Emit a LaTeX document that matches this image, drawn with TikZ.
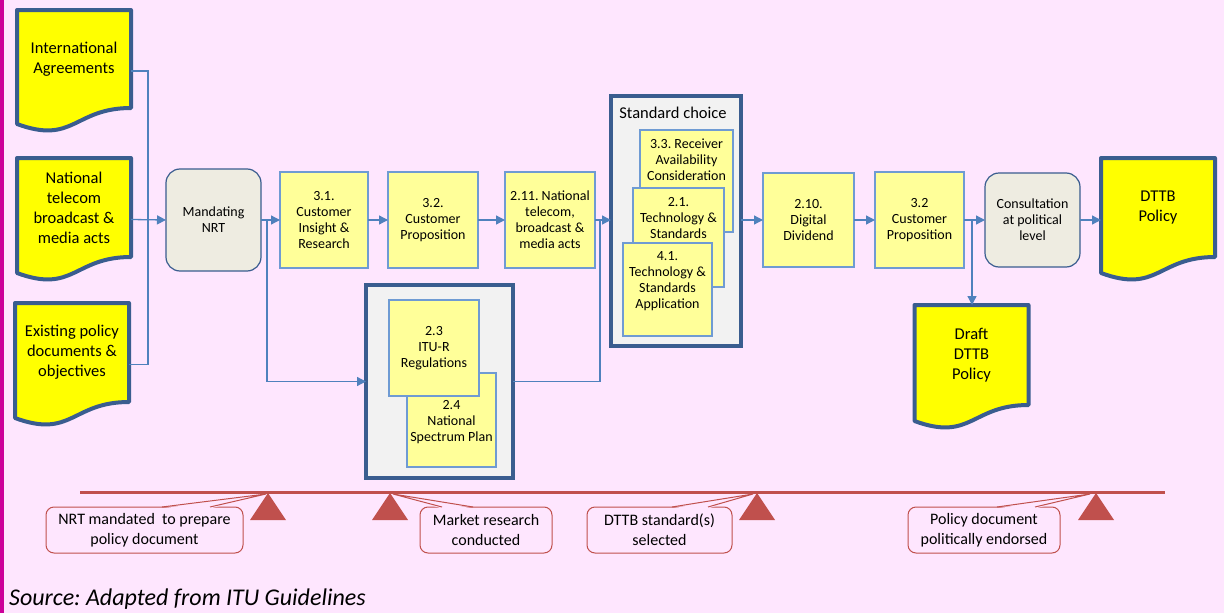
\documentclass[tikz,border=0pt]{standalone}
\usepackage{fontspec}
\setmainfont{Carlito}
\usepackage{xcolor}
\usepackage{tikz}
\usetikzlibrary{positioning,calc,arrows.meta}
\frenchspacing

\definecolor{bgpink}{HTML}{FEE6FE}
\definecolor{sidebar}{HTML}{CC0099}
\definecolor{docyellow}{HTML}{FFFF00}
\definecolor{darkblue}{HTML}{3A5D8F}
\definecolor{procyellow}{HTML}{FFFF99}
\definecolor{procblue}{HTML}{6F9BD3}
\definecolor{nrtgray}{HTML}{EEECE1}
\definecolor{boxgray}{HTML}{F2F2F2}
\definecolor{flowblue}{HTML}{4F81BD}
\definecolor{tlred}{HTML}{C0504D}

\tikzset{
  doc/.style={fill=docyellow, minimum width=114pt, outer sep=0pt, inner sep=2pt,
    align=center, font=\fontsize{16.5}{20}\selectfont},
  docline/.style={draw=darkblue, line width=4pt, line join=round},
  proc/.style={draw=procblue, fill=procyellow, line width=1.2pt, inner sep=2pt,
    outer sep=0pt, align=center, font=\fontsize{14}{16}\selectfont},
  ptext/.style={inner sep=0pt, align=center, font=\fontsize{14}{16}\selectfont},
  roundbox/.style={draw=darkblue, fill=nrtgray, line width=1.2pt, rounded corners=14pt,
    minimum width=95pt, inner sep=2pt, outer sep=0pt, align=center,
    font=\fontsize{14}{16}\selectfont},
  group/.style={draw=darkblue, fill=boxgray, line width=4pt, outer sep=0pt},
  flow/.style={draw=flowblue, line width=1.3pt, -{Triangle[length=9pt,width=9pt]}},
  link/.style={draw=flowblue, line width=1.3pt},
  tline/.style={draw=tlred, line width=3pt},
  callout/.style={draw=tlred, fill=bgpink, line width=1pt, rounded corners=8pt,
    minimum height=46pt, inner sep=2pt, outer sep=0pt, align=center,
    font=\fontsize{16}{20}\selectfont},
  callline/.style={draw=tlred, line width=1pt, line join=miter}
}

% wavy bottom of a document node
\newcommand{\docwave}[1]{%
  \fill[docyellow] (#1.south east) .. controls (#1.south) and ($(#1.south)+(0,37)$) .. ($(#1.south west)+(0,16)$) -- (#1.south west) -- cycle;
  \draw[docline] ($(#1.south west)+(0,16)$) -- (#1.north west) -- (#1.north east) -- (#1.south east)
    .. controls (#1.south) and ($(#1.south)+(0,37)$) .. ($(#1.south west)+(0,16)$) -- cycle;}

% pointer of a callout: node, left offset, right offset, tip
\newcommand{\pointer}[4]{%
  \fill[bgpink] ([xshift=#2pt,yshift=-1.5pt]#1.north west) -- (#4) -- ([xshift=#3pt,yshift=-1.5pt]#1.north west) -- cycle;
  \draw[callline] ([xshift=#2pt]#1.north west) -- (#4) -- ([xshift=#3pt]#1.north west);}

\begin{document}
\begin{tikzpicture}[x=1pt, y=-1pt]
        \useasboundingbox (0,0) rectangle (1224,613);
        \fill[bgpink] (0,0) rectangle (1224,613);
        \fill[sidebar] (0,0) rectangle (4,613);

        % inputs
        \node (intl) [doc, minimum height=98pt] at (74,59) {International\\Agreements};
        \node (natl) [doc, minimum height=99pt] at (74,207.5) {National\\telecom\\broadcast \&\\media acts};
        \node (exist) [doc, minimum height=99pt] at (72,352.5) {Existing policy\\documents \&\\objectives};
        \docwave{intl}
        \docwave{natl}
        \docwave{exist}

        \node (nrt) [roundbox, minimum height=102pt] at (213.5,220) {Mandating\\NRT};

        % top row
        \node (cir) [proc, minimum width=88pt, minimum height=96pt] at (324,220) {3.1.\\Customer\\Insight \&\\Research};
        \node (cp1) [proc, minimum width=90pt, minimum height=96pt] at (433,220) {3.2.\\Customer\\Proposition};
        \node (nat2) [proc, minimum width=90pt, minimum height=96pt] at (550,220) {2.11. National\\telecom,\\broadcast \&\\media acts};

        % regulations group
        \node (reg) [group, minimum width=147pt, minimum height=193pt] at (439.5,381.5) {};
        \node (nsp) [proc, minimum width=89pt, minimum height=94pt] at (451.5,420) {\\[-2pt]2.4\\National\\Spectrum Plan};
        \node (itu) [proc, minimum width=90pt, minimum height=96pt] at (434,348) {2.3\\ITU-R\\Regulations};

        % standard choice group
        \node (std) [group, minimum width=130pt, minimum height=250pt] at (676,221) {};
        \node (stdtitle) [inner sep=0pt, font=\fontsize{16.5}{20}\selectfont] at (673,113) {Standard choice};
        \node (rav) [proc, minimum width=93pt, minimum height=102pt] at (686.5,181) {};
        \node (ravt) [ptext] at (686.5,160) {3.3. Receiver\\Availability\\Consideration};
        \node (ts) [proc, minimum width=91pt, minimum height=99pt] at (678.5,237.5) {};
        \node (tst) [ptext] at (678.5,218) {2.1.\\Technology \&\\Standards};
        \node (tsa) [proc, minimum width=89pt, minimum height=93pt] at (667.5,289.5) {};
        \node (tsat) [ptext] at (667.5,281) {4.1.\\Technology \&\\Standards\\Application};

        \node (dd) [proc, minimum width=91pt, minimum height=94pt] at (808.5,220) {2.10.\\Digital\\Dividend};
        \node (cp2) [proc, minimum width=89pt, minimum height=96pt] at (919.5,220) {3.2\\Customer\\Proposition};
        \node (cons) [roundbox, minimum height=94pt] at (1032.5,220) {Consultation\\at political\\level};

        % outputs
        \node (dttb) [doc, minimum height=99pt] at (1158,207.5) {DTTB\\Policy};
        \node (draft) [doc, minimum height=100pt] at (971.5,355) {Draft\\DTTB\\Policy};
        \docwave{dttb}
        \docwave{draft}

        % connectors
        \coordinate (jin) at (148,220);
        \coordinate (jnrt) at (267,220);
        \coordinate (jreg) at (600,220);
        \coordinate (jcp) at (972,220);
        \draw[link] ([yshift=-12pt]intl.east) -| (jin);
        \draw[link] ([yshift=-12pt]exist.east) -| (jin);
        \draw[flow] ([yshift=-12pt]natl.east) -- (nrt.west);
        \draw[flow] (nrt) -- (cir);
        \draw[flow] (jnrt) |- (reg.west);
        \draw[flow] (cir) -- (cp1);
        \draw[flow] (cp1) -- (nat2);
        \draw[flow] (nat2.east) -- (nat2.east -| std.west);
        \draw[link] (reg.east) -| (jreg);
        \draw[flow] (dd.west -| std.east) -- (dd.west);
        \draw[flow] (dd) -- (cp2);
        \draw[flow] (cp2) -- (cons);
        \draw[flow] (jcp) -- (jcp |- draft.north);
        \draw[flow] (cons.east) -- (cons.east -| dttb.west);

        % milestones
        \coordinate (tl0) at (80,492);
        \coordinate (tl1) at (1165,492);
        \draw[tline] (tl0) -- (tl1);
        \foreach \x in {268,390,757,1096}
            \fill[tlred] (\x,493) -- ++(-18,27) -- ++(36,0) -- cycle;

        \coordinate (p1) at (266,494);
        \coordinate (p2) at (393,494);
        \coordinate (p3) at (753,494);
        \coordinate (p4) at (1090,494);
        \node (c1) [callout, minimum width=197pt] at (144.5,530) {NRT mandated\ \ to prepare\\policy document};
        \node (c2) [callout, minimum width=132pt] at (486,530) {Market research\\conducted};
        \node (c3) [callout, minimum width=145pt] at (659.5,530) {DTTB standard(s)\\selected};
        \node (c4) [callout, minimum width=152pt] at (984,530) {Policy document\\politically endorsed};
        \pointer{c1}{116}{164}{p1}
        \pointer{c2}{22}{53}{p2}
        \pointer{c3}{85}{121}{p3}
        \pointer{c4}{89}{127}{p4}

        \node (src) [anchor=west, inner sep=0pt, font=\fontsize{24}{28}\selectfont\itshape] at (9,599) {Source: Adapted from ITU Guidelines};
    \end{tikzpicture}
\end{document}
